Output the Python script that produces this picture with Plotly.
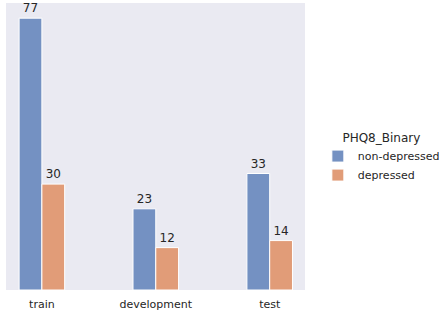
import plotly.graph_objects as go

categories = ["train", "development", "test"]
non_depressed = [77, 23, 33]
depressed = [30, 12, 14]
series_names = ["non-depressed", "depressed"]

colors = ["#7491C2", "#E19C78"]
font = "DejaVu Sans"

fig = go.Figure()
for name, vals, col in zip(series_names, [non_depressed, depressed], colors):
    fig.add_trace(go.Bar(
        x=categories, y=vals, name=name,
        marker=dict(color=col, line=dict(color="white", width=1)),
        text=[str(v) for v in vals], textposition="outside",
        textfont=dict(family=font, size=12, color="#262626"),
        cliponaxis=False,
    ))

fig.update_layout(
    width=441, height=314,
    margin=dict(l=6, r=136, t=3, b=24, autoexpand=False),
    paper_bgcolor="white", plot_bgcolor="#EAEAF2",
    barmode="group", bargap=0.6, bargroupgap=0,
    font=dict(family=font, size=11, color="#262626"),
    showlegend=True,
    legend=dict(
        title=dict(text="PHQ8_Binary", side="top center", font=dict(size=12, color="#262626")),
        x=1.043, xanchor="left", y=0.46, yanchor="middle",
        font=dict(size=11, color="#262626"),
        bgcolor="rgba(0,0,0,0)", itemwidth=30, tracegroupgap=0,
    ),
)
fig.update_xaxes(range=[-0.315, 2.31], showgrid=False, zeroline=False,
                 tickfont=dict(size=11, color="#262626"), ticks="", ticklen=0,
                 ticklabelstandoff=6)
fig.update_yaxes(range=[0, 81.3], showgrid=False, zeroline=False, showticklabels=False)

fig.write_html("out.html", post_script="document.body.style.margin='0';",
               config={"displayModeBar": False})
